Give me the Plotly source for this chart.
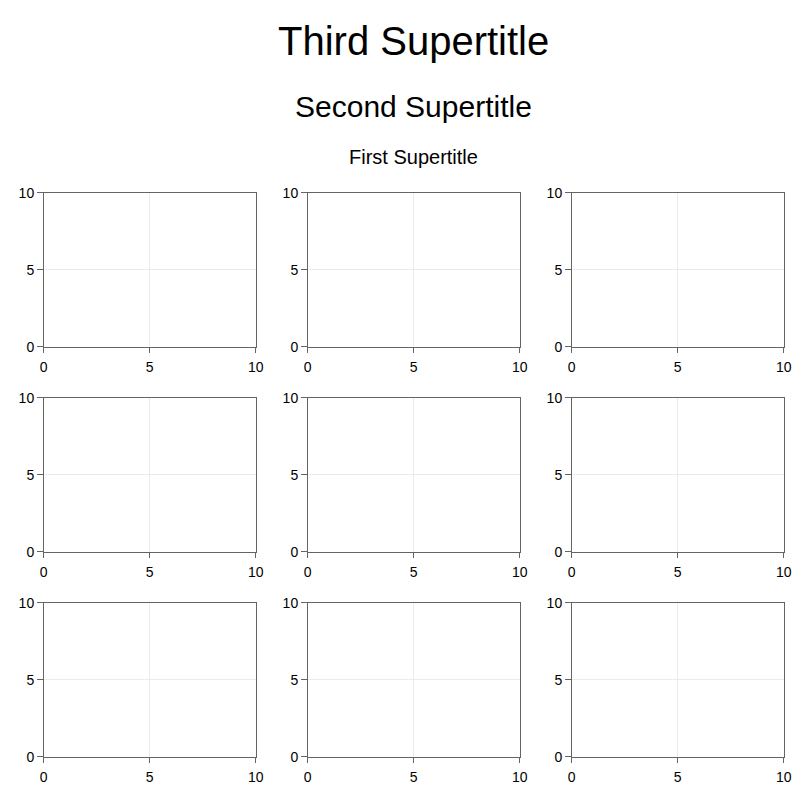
import plotly.graph_objects as go

titles = ["Third Supertitle", "Second Supertitle", "First Supertitle"]
title_sizes = [40, 30, 20]
axis_range = [0, 10]
tick_values = [0, 5, 10]
tick_labels = ["0", "5", "10"]
n_rows, n_cols = 3, 3

W, H = 800, 800
col_px = [(43.7, 255.7), (307.7, 519.7), (571.7, 783.7)]
row_px = [(192.7, 346.7), (397.7, 551.7), (602.7, 756.7)]
title_y_px = [41, 106, 157]
title_x_px = (col_px[0][0] + col_px[-1][1]) / 2

FONT = "Liberation Sans, Arial, Helvetica, sans-serif"
SPINE = "rgb(100,100,100)"
GRID = "rgb(235,235,235)"

fig = go.Figure()
layout = {}
k = 0
for r in range(n_rows):
    for c in range(n_cols):
        k += 1
        xa = "xaxis" if k == 1 else f"xaxis{k}"
        ya = "yaxis" if k == 1 else f"yaxis{k}"
        xr = "x" if k == 1 else f"x{k}"
        yr = "y" if k == 1 else f"y{k}"
        fig.add_trace(go.Scatter(x=[], y=[], xaxis=xr, yaxis=yr, showlegend=False))
        common = dict(
            range=axis_range, tickmode="array", tickvals=tick_values, ticktext=tick_labels,
            showgrid=True, gridcolor=GRID, gridwidth=1.2, zeroline=False,
            showline=True, linecolor=SPINE, linewidth=1.4, mirror=True,
            ticks="outside", ticklen=5.5, tickwidth=1.4, tickcolor=SPINE,
            tickfont=dict(family=FONT, size=14, color="black"),
            fixedrange=True, automargin=False,
        )
        layout[xa] = dict(common, domain=[col_px[c][0] / W, col_px[c][1] / W], anchor=yr,
                          ticklabelstandoff=2)
        layout[ya] = dict(common, domain=[1 - row_px[r][1] / H, 1 - row_px[r][0] / H], anchor=xr)

fig.update_layout(**layout)
annotations = []
for t, s, ypx in zip(titles, title_sizes, title_y_px):
    annotations.append(dict(text=t, x=title_x_px / W, y=1 - ypx / H, xref="paper", yref="paper",
                            xanchor="center", yanchor="middle", showarrow=False,
                            font=dict(family=FONT, size=s, color="black")))
fig.update_layout(
    width=W, height=H, margin=dict(l=0, r=0, t=0, b=0, pad=0, autoexpand=False),
    paper_bgcolor="white", plot_bgcolor="white",
    annotations=annotations, showlegend=False,
)
fig.write_html("out.html")
